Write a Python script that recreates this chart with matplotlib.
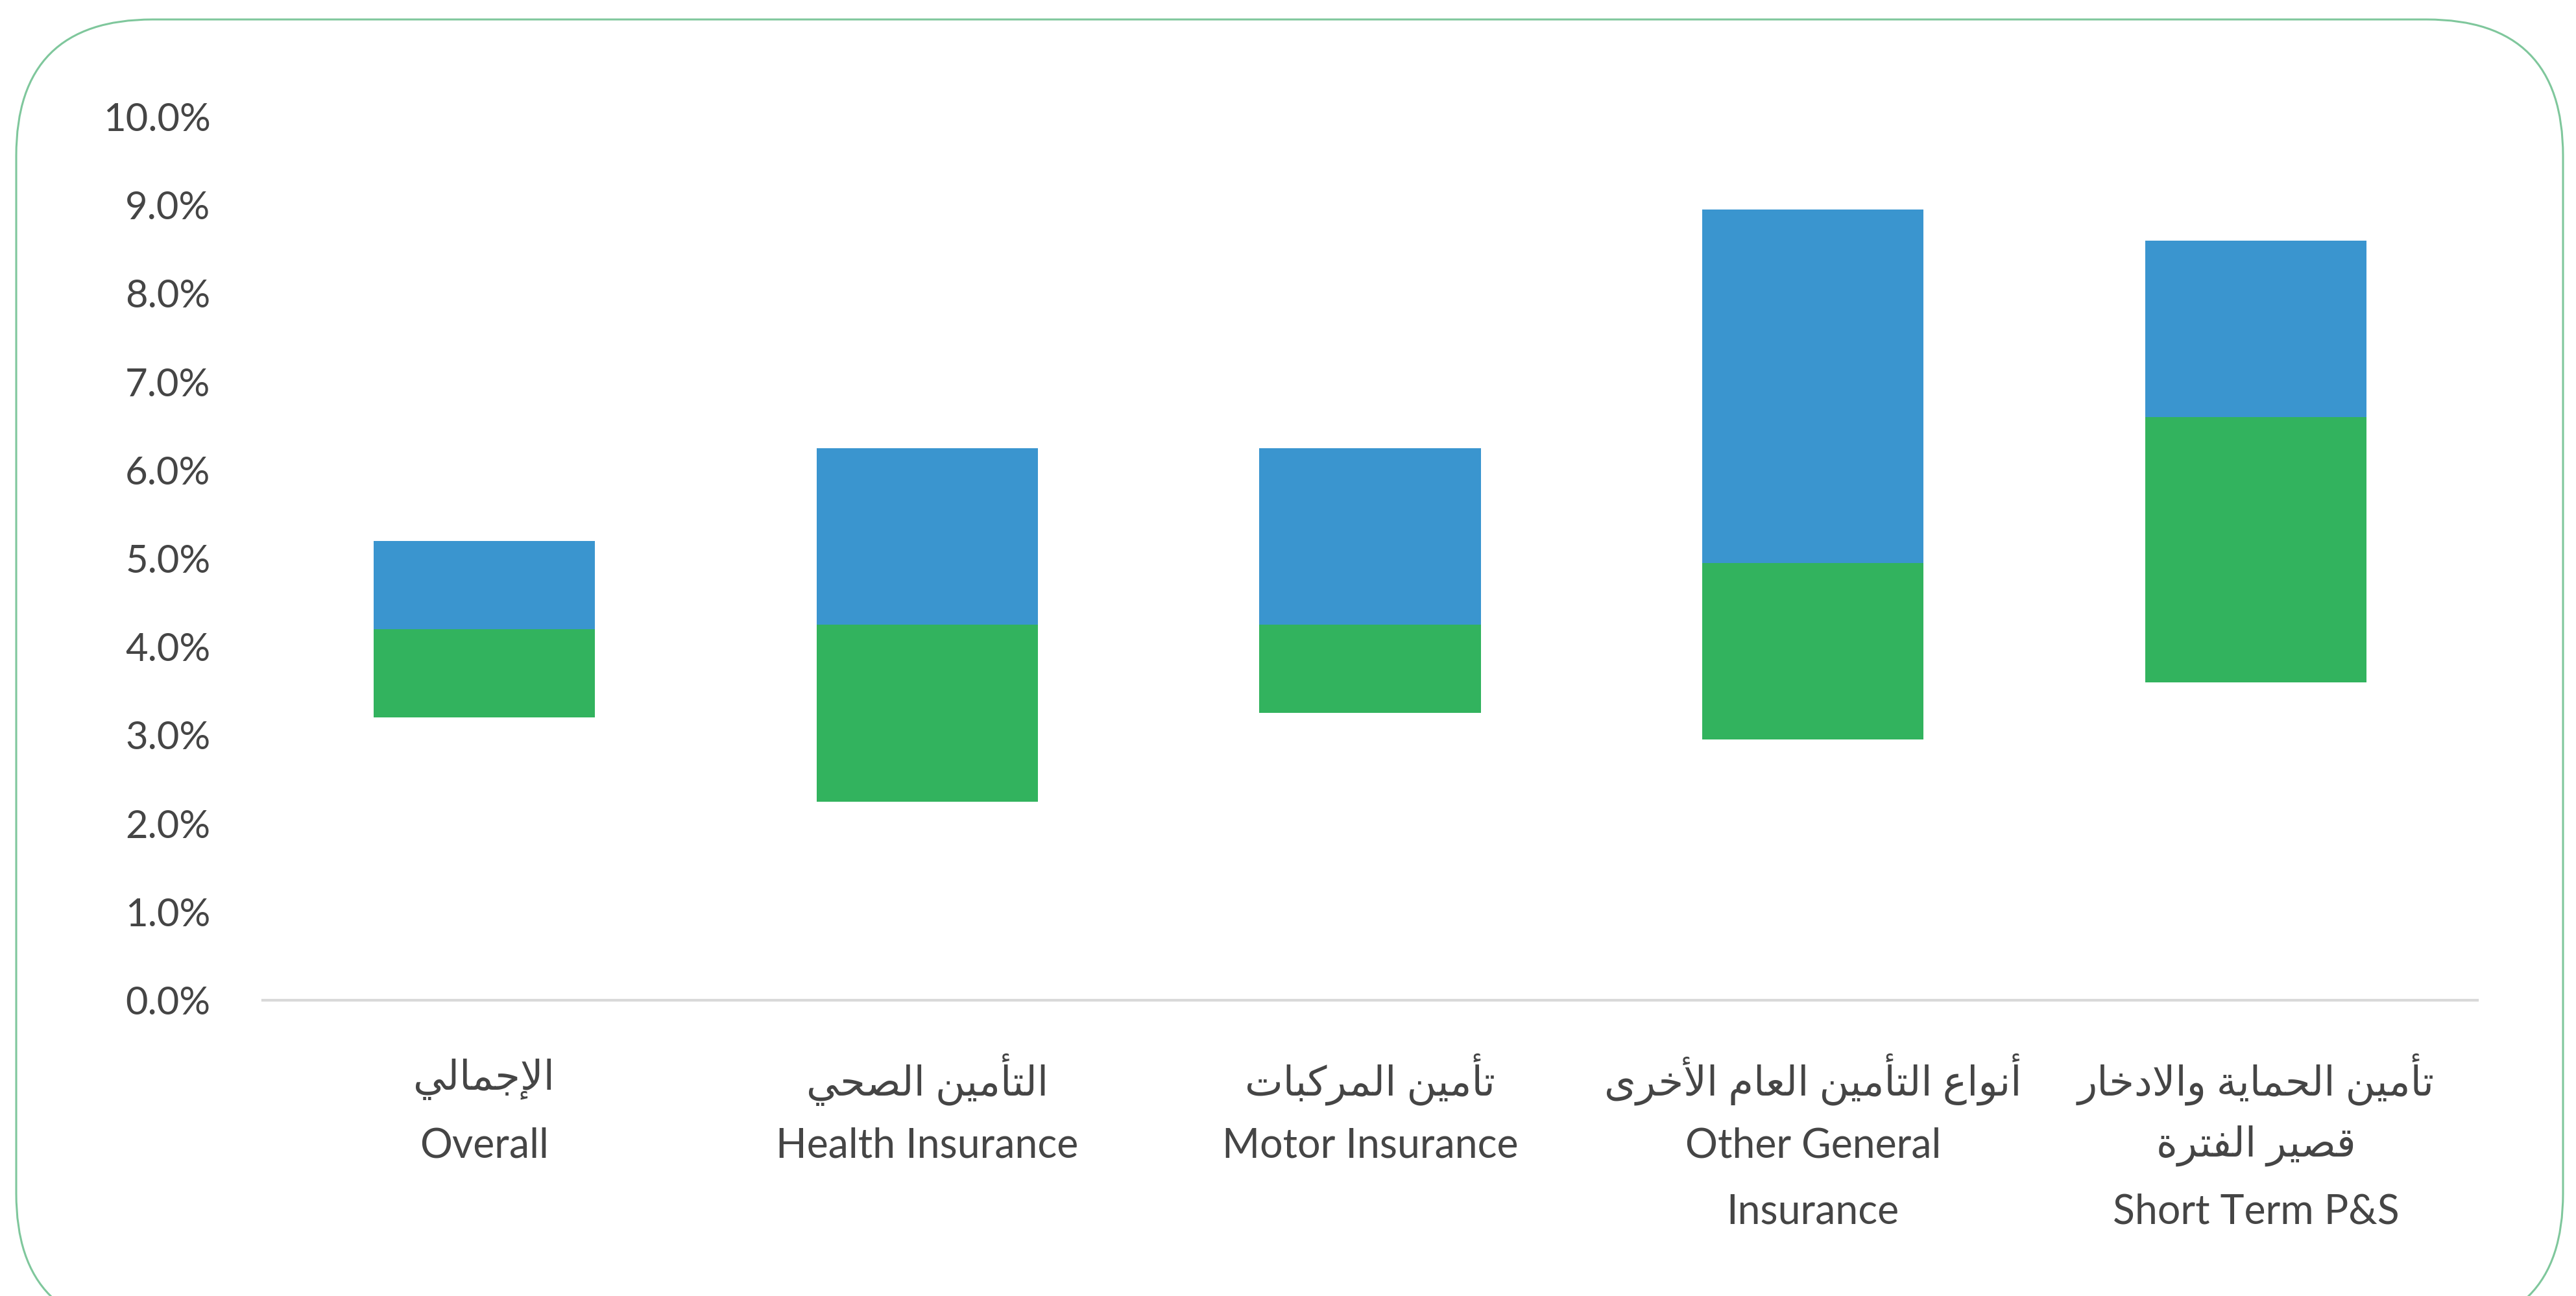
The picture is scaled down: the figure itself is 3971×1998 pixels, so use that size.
import matplotlib
matplotlib.use("Agg")
import matplotlib.pyplot as plt
from matplotlib.patches import FancyBboxPatch

# data (percent)
categories_ar = ["الإجمالي", "التأمين الصحي", "تأمين المركبات",
                 "أنواع التأمين العام الأخرى", "تأمين الحماية والادخار\nقصير الفترة"]
categories_en = ["Overall", "Health Insurance", "Motor Insurance",
                 "Other General\nInsurance", "Short Term P&S"]
low = [3.2, 2.25, 3.25, 2.95, 3.6]
mid = [4.2, 4.25, 4.25, 4.95, 6.6]
high = [5.2, 6.25, 6.25, 8.95, 8.6]
yticks = [0, 1, 2, 3, 4, 5, 6, 7, 8, 9, 10]

GREEN = "#32b35e"
BLUE = "#3a95cf"
TEXT = "#454545"

# minimal arabic shaping (matplotlib has no bidi/shaping)
FORMS = {
    "ا": "\uFE8D\uFE8E", "أ": "\uFE83\uFE84", "إ": "\uFE87\uFE88",
    "ب": "\uFE8F\uFE90\uFE91\uFE92", "ة": "\uFE93\uFE94",
    "ت": "\uFE95\uFE96\uFE97\uFE98", "ج": "\uFE9D\uFE9E\uFE9F\uFEA0",
    "ح": "\uFEA1\uFEA2\uFEA3\uFEA4", "خ": "\uFEA5\uFEA6\uFEA7\uFEA8",
    "د": "\uFEA9\uFEAA", "ر": "\uFEAD\uFEAE",
    "ص": "\uFEB9\uFEBA\uFEBB\uFEBC", "ع": "\uFEC9\uFECA\uFECB\uFECC",
    "ف": "\uFED1\uFED2\uFED3\uFED4", "ق": "\uFED5\uFED6\uFED7\uFED8",
    "ك": "\uFED9\uFEDA\uFEDB\uFEDC", "ل": "\uFEDD\uFEDE\uFEDF\uFEE0",
    "م": "\uFEE1\uFEE2\uFEE3\uFEE4", "ن": "\uFEE5\uFEE6\uFEE7\uFEE8",
    "و": "\uFEED\uFEEE", "ى": "\uFEEF\uFEF0",
    "ي": "\uFEF1\uFEF2\uFEF3\uFEF4",
    "لا": "\uFEFB\uFEFC", "لأ": "\uFEF7\uFEF8", "لإ": "\uFEF9\uFEFA",
}


def shape(line):
    items = []
    i = 0
    while i < len(line):
        if line[i] == "ل" and i + 1 < len(line) and line[i:i + 2] in FORMS:
            items.append(line[i:i + 2])
            i += 2
        else:
            items.append(line[i])
            i += 1
    out = []
    for k, c in enumerate(items):
        if c not in FORMS:
            out.append(c)
            continue
        f = FORMS[c]
        prev = k > 0 and items[k - 1] in FORMS and len(FORMS[items[k - 1]]) == 4
        nxt = k + 1 < len(items) and items[k + 1] in FORMS
        if len(f) == 4 and prev and nxt:
            out.append(f[3])
        elif prev:
            out.append(f[1])
        elif len(f) == 4 and nxt:
            out.append(f[2])
        else:
            out.append(f[0])
    return "".join(out[::-1])


label_lines = []
for ar, en in zip(categories_ar, categories_en):
    label_lines.append([shape(l) for l in ar.split("\n")] + en.split("\n"))

plt.rcParams["font.family"] = ["Lato", "DejaVu Sans"]

fig = plt.figure(figsize=(39.71, 19.98), dpi=100)

# rounded frame behind the chart
bg = fig.add_axes([0, 0, 1, 1])
bg.set_xlim(0, 3971)
bg.set_ylim(1998, 0)
bg.axis("off")
bg.add_patch(FancyBboxPatch((25, 30), 3926, 2020,
                            boxstyle="round,pad=0,rounding_size=210",
                            facecolor="white", edgecolor="#7fc79c", linewidth=2.2))

ax = fig.add_axes([0.102, 0.2282, 0.8597, 0.6817])
ax.patch.set_alpha(0)
x = list(range(len(label_lines)))
green_h = [m - l for l, m in zip(low, mid)]
blue_h = [h - m for m, h in zip(mid, high)]
ax.bar(x, green_h, bottom=low, width=0.5, color=GREEN)
ax.bar(x, blue_h, bottom=mid, width=0.5, color=BLUE)

ax.set_xlim(-0.5, 4.5)
ax.set_ylim(0, 10)
ax.set_yticks(yticks)
ax.set_yticklabels([f"{v:.1f}%" for v in yticks], fontsize=43, color=TEXT)
ax.set_xticks(x)
ax.set_xticklabels([])
ax.tick_params(axis="y", length=0, pad=58)
ax.tick_params(axis="x", length=0)

# category labels, one text per line so the rows line up across bars
ax_h = 0.6817 * 1998
offsets = [122, 224, 326]
for xi, lines in zip(x, label_lines):
    for j, t in enumerate(lines):
        ax.text(xi, -offsets[j] / ax_h, t, transform=ax.get_xaxis_transform(),
                ha="center", va="center", fontsize=45, color=TEXT)

for s in ["top", "right", "left"]:
    ax.spines[s].set_visible(False)
ax.spines["bottom"].set_color("#d9d9d9")
ax.spines["bottom"].set_linewidth(3)

fig.savefig("out.png", dpi=100)
